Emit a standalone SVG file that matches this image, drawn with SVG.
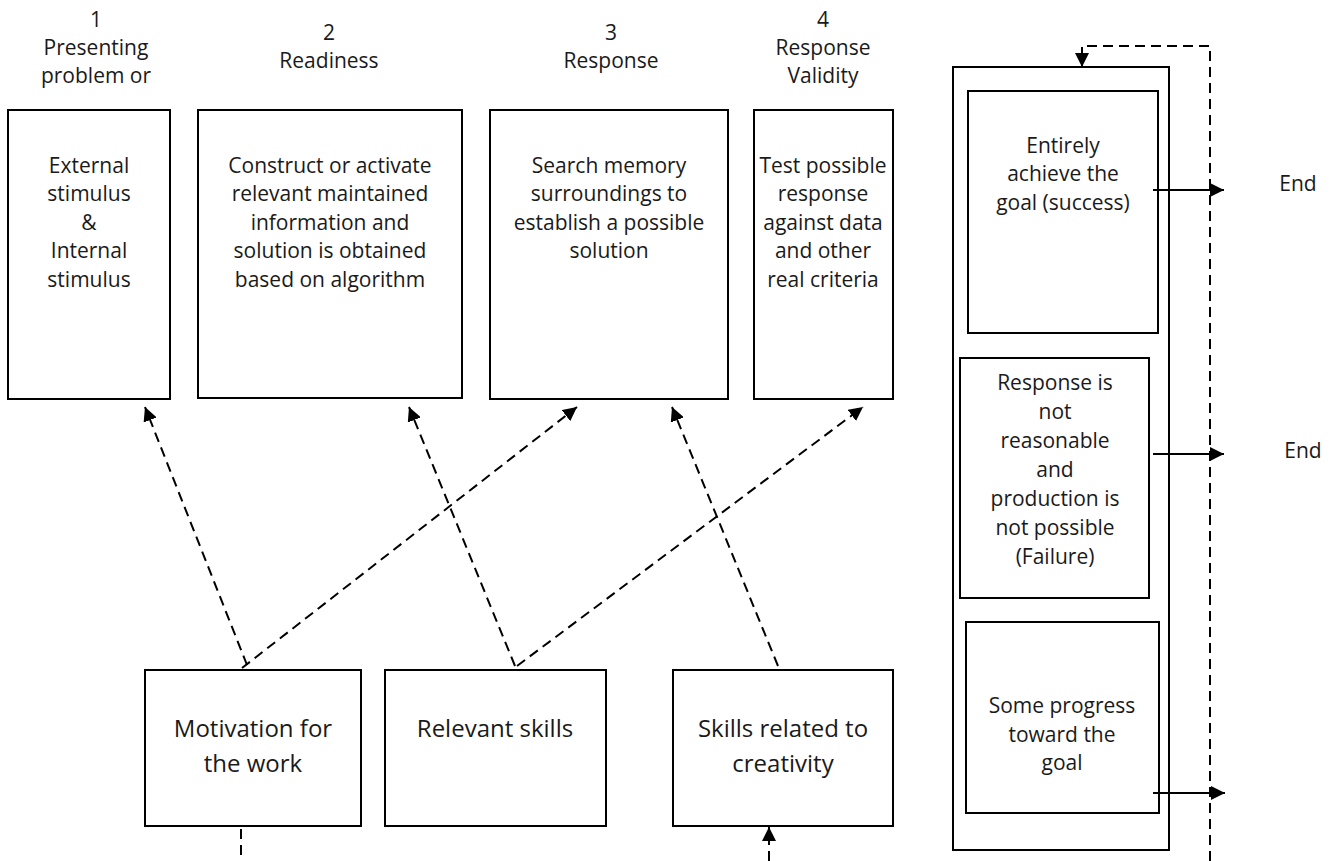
<svg xmlns="http://www.w3.org/2000/svg" width="1339" height="861" viewBox="0 0 1339 861">
<defs>
<style>
.box{fill:#fff;stroke:#000;stroke-width:2}
.t{font-family:"Open Sans","Noto Sans","DejaVu Sans",sans-serif;font-size:21px;fill:#1a1a1a;text-anchor:middle}
.tb{font-family:"Open Sans","Noto Sans","DejaVu Sans",sans-serif;font-size:24px;fill:#1a1a1a;text-anchor:middle}
.dash{fill:none;stroke:#000;stroke-width:2;stroke-dasharray:10,6}
.solid{fill:none;stroke:#000;stroke-width:2}
</style>
<marker id="ah2" viewBox="0 0 10 10" refX="10" refY="5" markerWidth="14" markerHeight="14" orient="auto" markerUnits="userSpaceOnUse">
<path d="M0,0 L10,5 L0,10 Z" fill="#000"/>
</marker>
</defs>
<rect width="1339" height="861" fill="#fff"/>

<g id="label1"><text class="t" x="96" y="27">1</text><text class="t" x="96" y="55">Presenting</text><text class="t" x="96" y="83">problem or</text></g>
<g id="label2"><text class="t" x="329" y="40">2</text><text class="t" x="329" y="68">Readiness</text></g>
<g id="label3"><text class="t" x="611" y="40">3</text><text class="t" x="611" y="68">Response</text></g>
<g id="label4"><text class="t" x="823" y="27">4</text><text class="t" x="823" y="55">Response</text><text class="t" x="823" y="83">Validity</text></g>

<g id="box1"><rect class="box" x="8" y="110" width="162" height="289"/>
<text class="t" x="89" y="173">External</text><text class="t" x="89" y="201">stimulus</text><text class="t" x="89" y="230">&amp;</text><text class="t" x="89" y="258">Internal</text><text class="t" x="89" y="287">stimulus</text></g>
<g id="box2"><rect class="box" x="198" y="110" width="264" height="288"/>
<text class="t" x="330" y="173">Construct or activate</text><text class="t" x="330" y="201">relevant maintained</text><text class="t" x="330" y="230">information and</text><text class="t" x="330" y="258">solution is obtained</text><text class="t" x="330" y="287">based on algorithm</text></g>
<g id="box3"><rect class="box" x="490" y="110" width="238" height="289"/>
<text class="t" x="609" y="173">Search memory</text><text class="t" x="609" y="201">surroundings to</text><text class="t" x="609" y="230">establish a possible</text><text class="t" x="609" y="258">solution</text></g>
<g id="box4"><rect class="box" x="754" y="110" width="139" height="289"/>
<text class="t" x="823" y="173">Test possible</text><text class="t" x="823" y="201">response</text><text class="t" x="823" y="230">against data</text><text class="t" x="823" y="258">and other</text><text class="t" x="823" y="287">real criteria</text></g>

<g id="outcomes"><rect class="box" x="953" y="67" width="216" height="783"/></g>
<g id="success"><rect class="box" x="968" y="91" width="190" height="242"/>
<text class="t" x="1063" y="153">Entirely</text><text class="t" x="1063" y="181">achieve the</text><text class="t" x="1063" y="210">goal (success)</text></g>
<g id="failure"><rect class="box" x="960" y="358" width="189" height="240"/>
<text class="t" x="1055" y="390">Response is</text><text class="t" x="1055" y="419">not</text><text class="t" x="1055" y="448">reasonable</text><text class="t" x="1055" y="477">and</text><text class="t" x="1055" y="506">production is</text><text class="t" x="1055" y="535">not possible</text><text class="t" x="1055" y="564">(Failure)</text></g>
<g id="progress"><rect class="box" x="966" y="622" width="193" height="191"/>
<text class="t" x="1062" y="713">Some progress</text><text class="t" x="1062" y="742">toward the</text><text class="t" x="1062" y="770">goal</text></g>

<g id="end1"><text class="t" x="1298" y="191">End</text></g>
<g id="end2"><text class="t" x="1303" y="458">End</text></g>

<g id="motivation"><rect class="box" x="145" y="670" width="216" height="156"/>
<text class="tb" x="253" y="737">Motivation for</text><text class="tb" x="253" y="772">the work</text></g>
<g id="relevant"><rect class="box" x="385" y="670" width="221" height="156"/>
<text class="tb" x="495" y="737">Relevant skills</text></g>
<g id="creativity"><rect class="box" x="673" y="670" width="220" height="156"/>
<text class="tb" x="783" y="737">Skills related to</text><text class="tb" x="783" y="772">creativity</text></g>

<g id="connectors">
<line class="dash" x1="247" y1="665" x2="145" y2="407" marker-end="url(#ah2)"/>
<line class="dash" x1="242" y1="668" x2="577" y2="407" marker-end="url(#ah2)"/>
<line class="dash" x1="515" y1="666" x2="409" y2="407" marker-end="url(#ah2)"/>
<line class="dash" x1="517" y1="666" x2="863" y2="407" marker-end="url(#ah2)"/>
<line class="dash" x1="778" y1="666" x2="672" y2="407" marker-end="url(#ah2)"/>
<line class="dash" x1="241" y1="829" x2="241" y2="861"/>
<line class="dash" x1="769" y1="861" x2="769" y2="827" marker-end="url(#ah2)"/>
<path class="dash" d="M1210,861 L1210,46 L1082,46 L1082,67" marker-end="url(#ah2)"/>
<line class="solid" x1="1153" y1="190" x2="1224" y2="190" marker-end="url(#ah2)"/>
<line class="solid" x1="1153" y1="454" x2="1224" y2="454" marker-end="url(#ah2)"/>
<line class="solid" x1="1153" y1="793" x2="1225" y2="793" marker-end="url(#ah2)"/>
</g>
</svg>
